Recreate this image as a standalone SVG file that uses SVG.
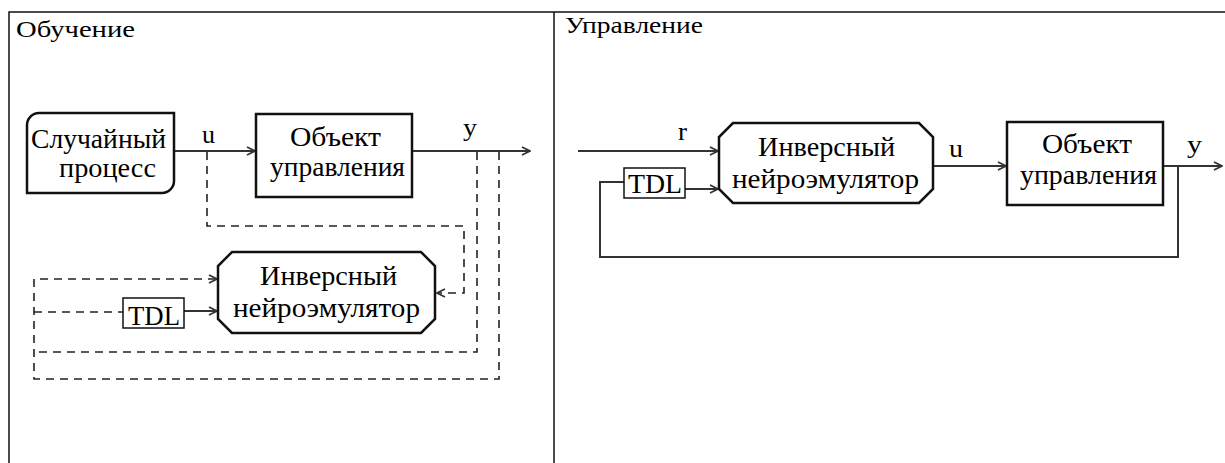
<svg xmlns="http://www.w3.org/2000/svg" width="1225" height="463" viewBox="0 0 1225 463">
<style>
text{font-family:"Liberation Serif","Times New Roman",Times,serif;fill:#000;}
.t{font-size:23px;}
.n{font-size:27px;}
.lbl{font-size:25px;}
.tdl{font-size:28px;}
.frame{fill:none;stroke:#111;stroke-width:1.5;}
.box{fill:#fff;stroke:#111;stroke-width:2.5;}
.small{fill:#fff;stroke:#111;stroke-width:1.5;}
.c{fill:none;stroke:#333;stroke-width:2;}
.d{fill:none;stroke:#222;stroke-width:1.6;stroke-dasharray:8,6;}
</style>
<defs>
<marker id="ah" viewBox="0 0 10 10" refX="9" refY="5" markerWidth="10" markerHeight="10" markerUnits="userSpaceOnUse" orient="auto">
<path d="M1,1 L9,5 L1,9" fill="none" stroke="#333" stroke-width="1.8"/>
</marker>
</defs>
<rect width="1225" height="463" fill="#fff"/>
<g id="frame">
<path class="frame" d="M9,463 L9,12 L1225,12 M554,12 L554,463"/>
<text class="t" x="16" y="37" textLength="119" lengthAdjust="spacingAndGlyphs">Обучение</text>
<text class="t" x="565" y="33" textLength="138" lengthAdjust="spacingAndGlyphs">Управление</text>
</g>
<g id="connectors">
<path class="c" d="M174,151 L255,151" marker-end="url(#ah)"/>
<path class="c" d="M412,151 L530,151" marker-end="url(#ah)"/>
<path class="d" d="M207,152 L207,226 L464,226 L464,293 L437,293" marker-end="url(#ah)"/>
<path class="d" d="M477,152 L477,352 L34,352"/>
<path class="d" d="M499,152 L499,379 L34,379 L34,279 L217,279" marker-end="url(#ah)"/>
<path class="d" d="M34,312 L123,312"/>
<path class="c" d="M184,311 L217,311" marker-end="url(#ah)"/>
<path class="c" d="M578,151 L718,151" marker-end="url(#ah)"/>
<path class="c" d="M1178,166 L1178,257 L600,257 L600,182 L624,182"/>
<path class="c" d="M685,189 L718,189" marker-end="url(#ah)"/>
<path class="c" d="M933,166 L1006,166" marker-end="url(#ah)"/>
<path class="c" d="M1163,166 L1222,166" marker-end="url(#ah)"/>
<text class="lbl" x="202" y="143" textLength="13" lengthAdjust="spacingAndGlyphs">u</text>
<text class="lbl" x="463" y="136" textLength="14" lengthAdjust="spacingAndGlyphs">y</text>
<text class="lbl" x="678" y="140" textLength="9" lengthAdjust="spacingAndGlyphs">r</text>
<text class="lbl" x="949" y="157" textLength="14" lengthAdjust="spacingAndGlyphs">u</text>
<text class="lbl" x="1187" y="153" textLength="15" lengthAdjust="spacingAndGlyphs">y</text>
</g>
<g id="random-process">
<path class="box" d="M27,125 A12,12 0 0 1 39,113 L174,113 L174,181 A12,12 0 0 1 162,193 L27,193 Z"/>
<text class="n" x="31" y="148" textLength="135" lengthAdjust="spacingAndGlyphs">Случайный</text>
<text class="n" x="59" y="177" textLength="97" lengthAdjust="spacingAndGlyphs">процесс</text>
</g>
<g id="plant-left">
<rect class="box" x="256" y="114" width="156" height="83"/>
<text class="n" x="290" y="146" textLength="91" lengthAdjust="spacingAndGlyphs">Объект</text>
<text class="n" x="270" y="176" textLength="135" lengthAdjust="spacingAndGlyphs">управления</text>
</g>
<g id="inverse-left">
<path class="box" d="M232,252 L421,252 L435,266 L435,319 L421,333 L232,333 L218,319 L218,266 Z"/>
<text class="n" x="260" y="285" textLength="137" lengthAdjust="spacingAndGlyphs">Инверсный</text>
<text class="n" x="233" y="317" textLength="187" lengthAdjust="spacingAndGlyphs">нейроэмулятор</text>
</g>
<g id="tdl-left">
<rect class="small" x="123" y="298" width="61" height="30"/>
<text class="tdl" x="128" y="325" textLength="52" lengthAdjust="spacingAndGlyphs">TDL</text>
</g>
<g id="inverse-right">
<path class="box" d="M733,123 L919,123 L933,137 L933,189 L919,203 L733,203 L719,189 L719,137 Z"/>
<text class="n" x="758" y="156" textLength="137" lengthAdjust="spacingAndGlyphs">Инверсный</text>
<text class="n" x="732" y="188" textLength="187" lengthAdjust="spacingAndGlyphs">нейроэмулятор</text>
</g>
<g id="tdl-right">
<rect class="small" x="624" y="168" width="61" height="30"/>
<text class="tdl" x="628" y="193" textLength="54" lengthAdjust="spacingAndGlyphs">TDL</text>
</g>
<g id="plant-right">
<rect class="box" x="1007" y="122" width="156" height="83"/>
<text class="n" x="1042" y="153" textLength="90" lengthAdjust="spacingAndGlyphs">Объект</text>
<text class="n" x="1020" y="184" textLength="137" lengthAdjust="spacingAndGlyphs">управления</text>
</g>
</svg>
